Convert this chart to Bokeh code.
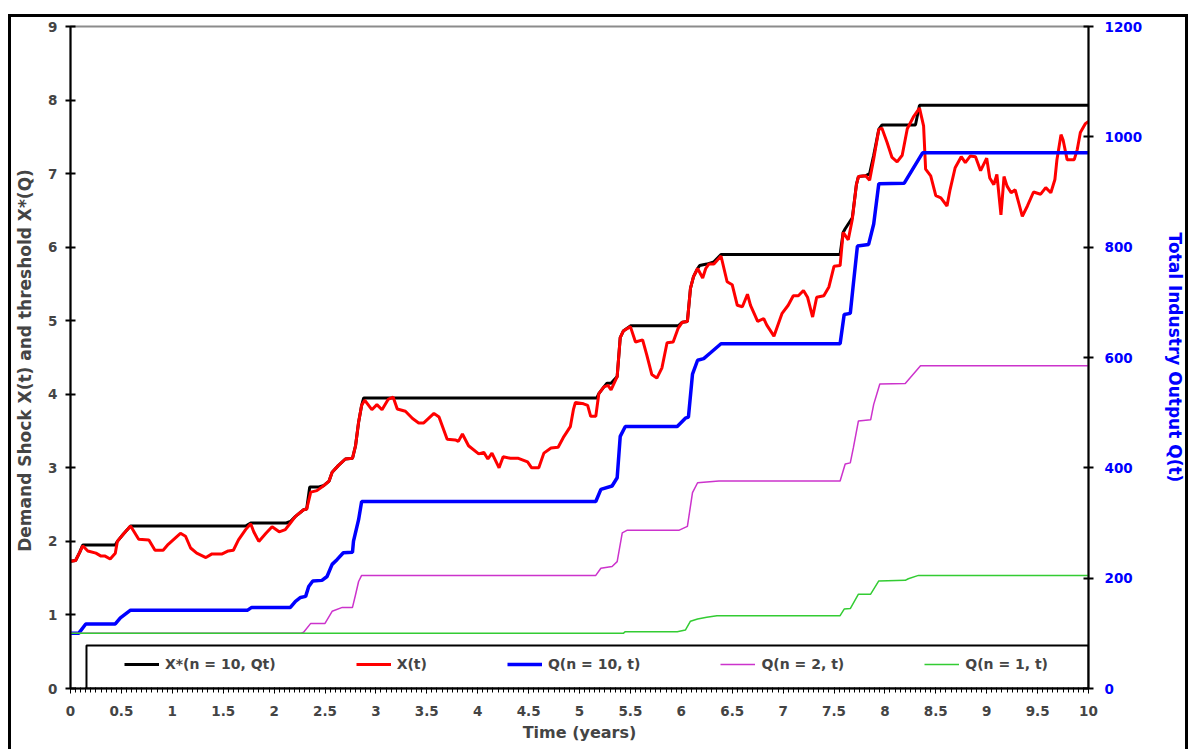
from bokeh.plotting import figure
from bokeh.models import (Range1d, LinearAxis, FixedTicker, Legend, LegendItem,
                          BoxAnnotation, CustomJSTickFormatter)
from bokeh.embed import file_html
from bokeh.resources import INLINE

# ---------------- data ----------------
# Demand shock X(t)
x_t = [0.00, 0.05, 0.09, 0.12, 0.17, 0.25, 0.30, 0.34, 0.39, 0.44, 0.46, 0.52, 0.59, 0.67, 0.77,
       0.83, 0.91, 0.96, 1.08, 1.13, 1.18, 1.24, 1.33, 1.39, 1.49, 1.55, 1.60, 1.65, 1.72, 1.77,
       1.80, 1.85, 1.92, 1.98, 2.05, 2.11, 2.16, 2.21, 2.29, 2.32, 2.36, 2.42, 2.49, 2.54, 2.57,
       2.63, 2.70, 2.77, 2.80, 2.83, 2.86, 2.89, 2.96, 3.01, 3.06, 3.12, 3.17, 3.21, 3.29, 3.36,
       3.42, 3.47, 3.57, 3.62, 3.70, 3.78, 3.81, 3.85, 3.91, 4.01, 4.06, 4.10, 4.14, 4.21, 4.25,
       4.32, 4.40, 4.49, 4.53, 4.60, 4.65, 4.72, 4.79, 4.84, 4.91, 4.94, 4.96, 5.04, 5.08, 5.11,
       5.16, 5.19, 5.24, 5.28, 5.31, 5.37, 5.40, 5.43, 5.50, 5.55, 5.62, 5.66, 5.71, 5.76, 5.81,
       5.86, 5.92, 5.97, 6.01, 6.06, 6.09, 6.12, 6.16, 6.21, 6.24, 6.27, 6.32, 6.39, 6.45, 6.50,
       6.55, 6.60, 6.65, 6.68, 6.75, 6.81, 6.84, 6.91, 6.99, 7.05, 7.10, 7.15, 7.20, 7.24, 7.29,
       7.33, 7.40, 7.45, 7.50, 7.56, 7.59, 7.64, 7.68, 7.72, 7.74, 7.81, 7.85, 7.89, 7.94, 7.97,
       8.02, 8.07, 8.12, 8.17, 8.22, 8.28, 8.34, 8.38, 8.40, 8.45, 8.50, 8.55, 8.61, 8.64, 8.69,
       8.75, 8.79, 8.84, 8.89, 8.94, 9.00, 9.03, 9.07, 9.10, 9.14, 9.16, 9.17, 9.20, 9.24, 9.28,
       9.35, 9.40, 9.46, 9.53, 9.58, 9.63, 9.67, 9.69, 9.73, 9.75, 9.79, 9.86, 9.89, 9.92, 9.97,
       10.00]
x_vals = [1.73, 1.74, 1.85, 1.94, 1.87, 1.84, 1.80, 1.80, 1.76, 1.84, 2.00, 2.10, 2.21, 2.03, 2.02,
          1.88, 1.88, 1.96, 2.11, 2.07, 1.91, 1.84, 1.78, 1.83, 1.83, 1.87, 1.88, 2.02, 2.16, 2.24,
          2.13, 2.00, 2.11, 2.20, 2.13, 2.16, 2.25, 2.34, 2.43, 2.44, 2.67, 2.69, 2.76, 2.82, 2.94,
          3.03, 3.12, 3.13, 3.30, 3.62, 3.85, 3.92, 3.79, 3.86, 3.79, 3.93, 3.96, 3.80, 3.77, 3.67,
          3.61, 3.61, 3.74, 3.69, 3.39, 3.38, 3.36, 3.46, 3.30, 3.19, 3.21, 3.12, 3.20, 3.00, 3.15,
          3.13, 3.13, 3.08, 3.00, 3.00, 3.20, 3.27, 3.28, 3.41, 3.56, 3.79, 3.89, 3.87, 3.85, 3.70,
          3.70, 4.01, 4.10, 4.12, 4.06, 4.24, 4.77, 4.86, 4.92, 4.71, 4.74, 4.54, 4.27, 4.22, 4.36,
          4.70, 4.71, 4.90, 4.98, 4.99, 5.44, 5.60, 5.71, 5.58, 5.71, 5.77, 5.77, 5.88, 5.53, 5.49,
          5.21, 5.19, 5.36, 5.21, 4.99, 5.03, 4.94, 4.79, 5.10, 5.21, 5.34, 5.34, 5.41, 5.32, 5.05,
          5.32, 5.34, 5.46, 5.74, 5.75, 6.20, 6.10, 6.38, 6.85, 6.96, 6.97, 6.91, 7.20, 7.60, 7.62,
          7.43, 7.22, 7.16, 7.25, 7.61, 7.77, 7.89, 7.65, 7.06, 6.97, 6.70, 6.67, 6.56, 6.78, 7.08,
          7.23, 7.15, 7.24, 7.23, 7.04, 7.21, 6.94, 6.85, 6.99, 6.44, 6.78, 6.96, 6.83, 6.74, 6.78,
          6.42, 6.56, 6.75, 6.72, 6.81, 6.74, 6.92, 7.19, 7.53, 7.46, 7.19, 7.19, 7.33, 7.56, 7.68,
          7.71]

# Threshold X*(n = 10, Qt)
xs_t = [0.00, 0.05, 0.09, 0.12, 0.44, 0.46, 0.52, 0.59, 1.72, 1.77, 2.12, 2.16, 2.21, 2.29, 2.32,
        2.35, 2.44, 2.49, 2.54, 2.57, 2.63, 2.70, 2.77, 2.80, 2.83, 2.86, 2.88, 5.17, 5.19, 5.24,
        5.27, 5.31, 5.37, 5.40, 5.43, 5.50, 5.97, 6.01, 6.06, 6.09, 6.12, 6.16, 6.18, 6.25, 6.32,
        6.39, 7.56, 7.59, 7.61, 7.68, 7.72, 7.74, 7.81, 7.85, 7.89, 7.94, 7.97, 8.30, 8.34, 10.00]
xs_vals = [1.73, 1.74, 1.85, 1.95, 1.95, 2.00, 2.10, 2.21, 2.21, 2.25, 2.25, 2.27, 2.34, 2.43, 2.44,
           2.74, 2.74, 2.76, 2.82, 2.94, 3.03, 3.12, 3.13, 3.30, 3.62, 3.85, 3.95, 3.95, 4.01, 4.10,
           4.15, 4.15, 4.24, 4.77, 4.86, 4.93, 4.93, 4.98, 4.99, 5.44, 5.60, 5.71, 5.75, 5.77, 5.80,
           5.90, 5.90, 6.20, 6.25, 6.40, 6.85, 6.96, 6.97, 7.00, 7.25, 7.60, 7.66, 7.66, 7.93, 7.93]

# Q(n = 10, t)
q10_t = [0.00, 0.08, 0.15, 0.44, 0.49, 0.59, 1.74, 1.78, 2.16, 2.21, 2.26, 2.31, 2.34, 2.38, 2.47,
         2.52, 2.57, 2.62, 2.68, 2.77, 2.78, 2.83, 2.86, 5.16, 5.21, 5.32, 5.37, 5.40, 5.45, 5.96,
         6.04, 6.07, 6.11, 6.16, 6.22, 6.29, 6.39, 7.56, 7.60, 7.66, 7.69, 7.73, 7.84, 7.89, 7.94,
         8.19, 8.37, 10.00]
q10_vals = [100, 100, 117, 117, 128, 142, 142, 147, 147, 158, 165, 167, 185, 195, 196,
            203, 225, 234, 246, 247, 267, 306, 339, 339, 361, 367, 382, 457, 475, 475,
            490, 492, 570, 595, 598, 609, 625, 625, 678, 680, 733, 802, 805, 842, 915,
            916, 971, 971]

# Q(n = 2, t)
q2_t = [0.00, 2.26, 2.29, 2.36, 2.50, 2.57, 2.67, 2.77, 2.80, 2.83, 2.86, 5.16, 5.21, 5.32, 5.37,
        5.42, 5.47, 5.98, 6.06, 6.11, 6.16, 6.37, 7.56, 7.61, 7.66, 7.69, 7.74, 7.86, 7.89, 7.95,
        8.20, 8.35, 10.00]
q2_vals = [100, 100, 102, 118, 118, 140, 147, 147, 170, 194, 205, 205, 218, 221, 230,
           282, 287, 287, 294, 355, 373, 376, 376, 407, 409, 436, 485, 487, 515, 552,
           553, 585, 585]

# Q(n = 1, t)
q1_t = [0.00, 5.43, 5.45, 5.96, 6.04, 6.09, 6.16, 6.25, 6.35, 7.56, 7.60, 7.66, 7.74, 7.86, 7.94,
        8.20, 8.23, 8.33, 10.00]
q1_vals = [100, 100, 103, 103, 106, 122, 126, 129, 132, 132, 144, 145, 171, 171, 195,
           196, 199, 205, 205]

x_ticks = [0, 0.5, 1, 1.5, 2, 2.5, 3, 3.5, 4, 4.5, 5, 5.5, 6, 6.5, 7, 7.5, 8, 8.5, 9, 9.5, 10]
x_minor_ticks = [i * 0.05 for i in range(201)]
left_ticks = [0, 1, 2, 3, 4, 5, 6, 7, 8, 9]
right_ticks = [0, 200, 400, 600, 800, 1000, 1200]

legend_labels = ["X*(n = 10, Qt)", "X(t)", "Q(n = 10, t)", "Q(n = 2, t)", "Q(n = 1, t)"]

# ---------------- figure ----------------
FONT = "DejaVu Sans"

p = figure(width=1190, height=749, output_backend="svg", toolbar_location=None,
           x_range=Range1d(0, 10), y_range=Range1d(0, 9),
           min_border_left=70, min_border_right=102, min_border_top=26, min_border_bottom=61)
# outer black frame of the picture (painted behind a transparent canvas border)
p.styles = {"background": ("linear-gradient(#000,#000) 8px 14px / 1180px 3px no-repeat, "
                           "linear-gradient(#000,#000) 8px 14px / 3px 100% no-repeat, "
                           "linear-gradient(#000,#000) 1185px 14px / 3px 100% no-repeat, #ffffff")}
p.xgrid.visible = False
p.ygrid.visible = False
p.background_fill_color = "white"
p.border_fill_alpha = 0
p.outline_line_color = "#8c8c8c"
p.outline_line_width = 2

p.extra_y_ranges = {"q": Range1d(0, 1200)}

# x axis
xa = p.xaxis[0]
xa.ticker = FixedTicker(ticks=x_ticks, minor_ticks=x_minor_ticks)
xa.formatter = CustomJSTickFormatter(code="return String(tick);")
xa.axis_label = "Time (years)"
xa.axis_label_text_font = FONT
xa.axis_label_text_font_style = "bold"
xa.axis_label_text_font_size = "16px"
xa.axis_label_standoff = 4
xa.major_label_text_font = FONT
xa.major_label_text_font_style = "bold"
xa.major_label_text_font_size = "13.5px"
xa.major_label_standoff = 12
xa.axis_line_width = 2
xa.major_tick_in = 1
xa.major_tick_out = 5
xa.minor_tick_in = 1
xa.minor_tick_out = 4
xa.minor_tick_line_color = "black"

# left axis
ya = p.yaxis[0]
ya.ticker = FixedTicker(ticks=left_ticks)
ya.axis_label = "Demand Shock X(t)  and threshold X*(Q)"
ya.axis_label_text_font = FONT
ya.axis_label_text_font_style = "bold"
ya.axis_label_text_font_size = "17px"
ya.axis_label_standoff = 10
ya.major_label_text_font = FONT
ya.major_label_text_font_style = "bold"
ya.major_label_text_font_size = "13.5px"
ya.major_label_standoff = 8
ya.axis_line_width = 2
ya.major_tick_in = 5
ya.major_tick_out = 5
ya.major_tick_line_width = 2
ya.minor_tick_line_color = None

# right axis
ra = LinearAxis(y_range_name="q", ticker=FixedTicker(ticks=right_ticks),
                axis_label="Total Industry Output Q(t)")
ra.axis_label_text_font = FONT
ra.axis_label_text_font_style = "bold"
ra.axis_label_text_font_size = "17px"
ra.axis_label_text_color = "#0000ff"
ra.axis_label_standoff = 20
ra.major_label_text_font = FONT
ra.major_label_text_font_style = "bold"
ra.major_label_text_font_size = "13.5px"
ra.major_label_text_color = "#0000ff"
ra.major_label_standoff = 11
ra.axis_line_width = 2
ra.major_tick_in = 5
ra.major_tick_out = 5
ra.major_tick_line_width = 2
ra.minor_tick_line_color = None
p.add_layout(ra, "right")

# legend frame
p.add_layout(BoxAnnotation(left=0.157, top=0.585, fill_color="white", fill_alpha=1.0,
                           line_color="black", line_alpha=1.0, line_width=2, level="underlay"))

# series
r_black = p.line(xs_t, xs_vals, line_color="black", line_width=3)
r_red = p.line(x_t, x_vals, line_color="#ff0000", line_width=3)
r_blue = p.line(q10_t, q10_vals, line_color="#0000ff", line_width=3.5, y_range_name="q")
r_mag = p.line(q2_t, q2_vals, line_color="#cc33cc", line_width=1.5, y_range_name="q")
r_green = p.line(q1_t, q1_vals, line_color="#33cc33", line_width=1.5, y_range_name="q")

legend = Legend(items=[LegendItem(label=l, renderers=[r]) for l, r in
                       zip(legend_labels, [r_black, r_red, r_blue, r_mag, r_green])],
                orientation="horizontal", location=(54, 14), padding=0, spacing=80,
                glyph_width=35, glyph_height=20, label_standoff=6,
                label_text_font=FONT, label_text_font_style="bold",
                label_text_font_size="14px", border_line_color=None,
                background_fill_alpha=0, margin=0)
p.add_layout(legend, "center")

open("out.html", "w").write(file_html(p, INLINE))
